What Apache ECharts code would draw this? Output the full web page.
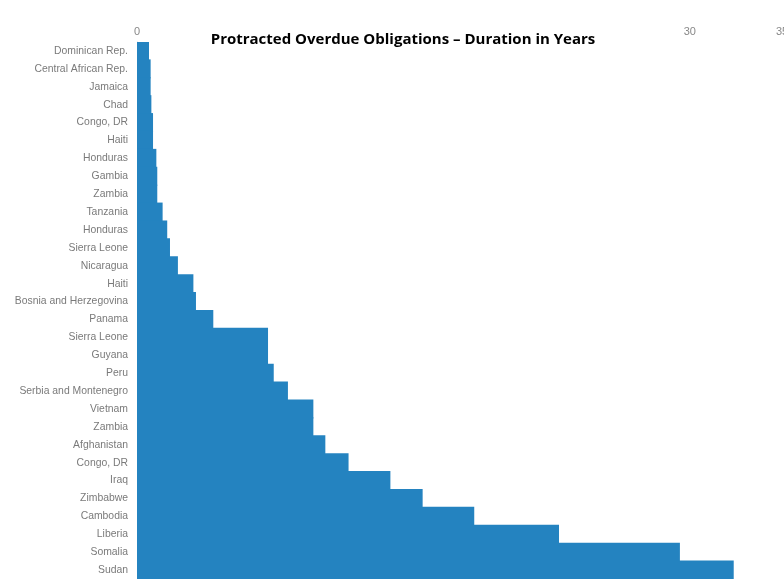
<!DOCTYPE html>
<html>
<head>
<meta charset="utf-8">
<script src="https://cdn.jsdelivr.net/npm/echarts@6/dist/echarts.min.js"></script>
<style>
  html, body { margin: 0; padding: 0; background: #fff; }
  #main { width: 784px; height: 579px; }
</style>
</head>
<body>
<div id="main"></div>
<script>
// countries, top to bottom
var countries = [
    'Dominican Rep.', 'Central African Rep.', 'Jamaica', 'Chad', 'Congo, DR',
    'Haiti', 'Honduras', 'Gambia', 'Zambia', 'Tanzania',
    'Honduras', 'Sierra Leone', 'Nicaragua', 'Haiti', 'Bosnia and Herzegovina',
    'Panama', 'Sierra Leone', 'Guyana', 'Peru', 'Serbia and Montenegro',
    'Vietnam', 'Zambia', 'Afghanistan', 'Congo, DR', 'Iraq',
    'Zimbabwe', 'Cambodia', 'Liberia', 'Somalia', 'Sudan'
]
// duration in years
var years = [
    0.65, 0.74, 0.74, 0.78, 0.87,
    0.87, 1.05, 1.10, 1.10, 1.39,
    1.64, 1.79, 2.22, 3.06, 3.20,
    4.14, 7.11, 7.11, 7.42, 8.19,
    9.57, 9.57, 10.22, 11.48, 13.75,
    15.50, 18.30, 22.90, 29.46, 32.38
]
// tick labels that show (the others sit under the title)
var shownTicks = [0, 30, 35]

var myChart = echarts.init(document.getElementById('main'))

// categories use index keys because some names repeat
var idx = countries.map(function (c, i) { return String(i) })

var option = {
    animation: false,
    backgroundColor: '#fff',
    title: {
        text: 'Protracted Overdue Obligations \u2013 Duration in Years',
        left: 398,
        textAlign: 'center',
        top: 27,
        textStyle: {
            fontFamily: 'Open Sans',
            fontWeight: 'bold',
            fontSize: 15,
            color: '#000'
        }
    },
    grid: {
        left: 137,
        right: 2,
        top: 42,
        bottom: 0,
        containLabel: false,
        outerBoundsMode: 'none'
    },
    xAxis: {
        type: 'value',
        position: 'top',
        min: 0,
        max: 35,
        interval: 5,
        axisLine: { show: false },
        axisTick: { show: false },
        splitLine: { show: false },
        axisLabel: {
            margin: 5,
            color: '#888',
            fontFamily: 'Liberation Sans',
            fontSize: 11,
            showMaxLabel: true,
            hideOverlap: false,
            formatter: function (v) {
                return shownTicks.indexOf(v) >= 0 ? String(v) : ''
            }
        }
    },
    yAxis: {
        type: 'category',
        inverse: true,
        data: idx,
        axisLine: { show: true, lineStyle: { color: '#d9d9d9', width: 1 } },
        axisTick: { show: false },
        splitLine: { show: false },
        axisLabel: {
            margin: 9,
            color: '#7a7a7a',
            fontFamily: 'Liberation Sans',
            fontSize: 10.4,
            interval: 0,
            formatter: function (v) {
                return countries[Number(v)]
            }
        }
    },
    series: [{
        type: 'bar',
        data: years,
        barWidth: '106%',
        itemStyle: { color: '#2483c0' }
    }]
}

myChart.setOption(option)
</script>
</body>
</html>
